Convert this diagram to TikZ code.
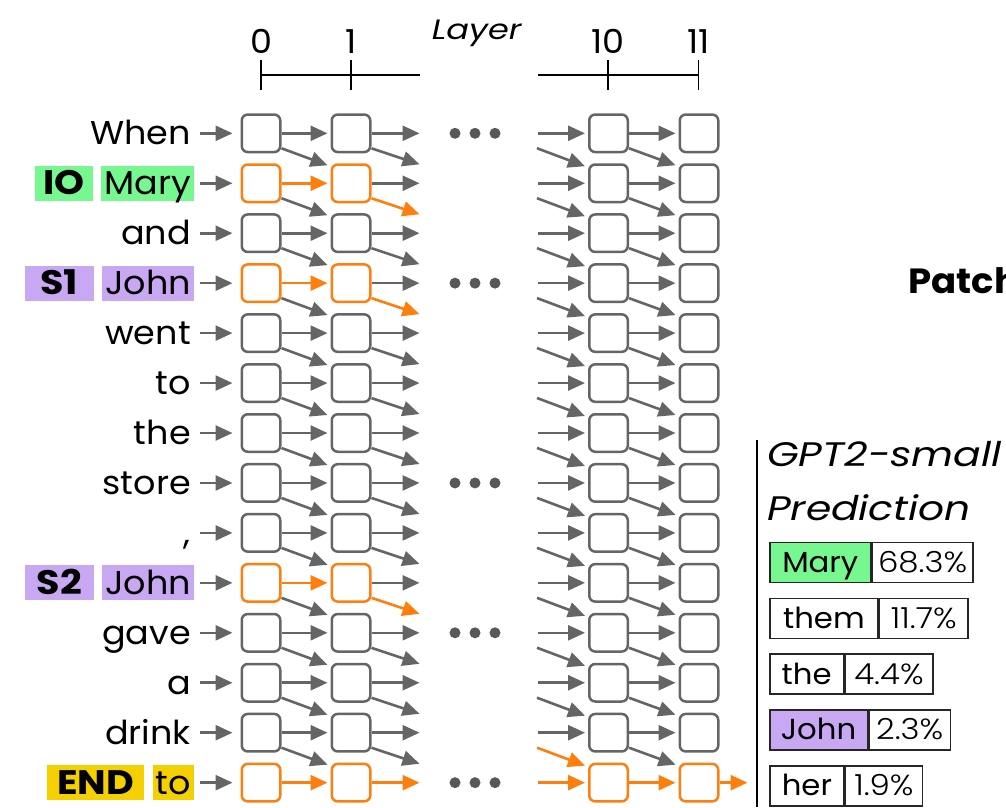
\documentclass[tikz,border=0pt]{standalone}
\usepackage{fontspec}
\setmainfont{Poppins}[FakeStretch=1.06]
\newfontfamily\plight{Poppins Light}[FakeStretch=1.12]
\newfontfamily\titfont{Poppins}[FakeStretch=1.2]
\newfontfamily\tagfont{Poppins}[FakeStretch=1.12]
\usetikzlibrary{arrows.meta,calc}
\definecolor{cgray}{HTML}{656565}
\definecolor{corange}{HTML}{FF7F0E}
\definecolor{cgreen}{HTML}{77F790}
\definecolor{cpurple}{HTML}{C8A7F3}
\definecolor{cyellow}{HTML}{F5D000}
\definecolor{cdot}{HTML}{585858}
\begin{document}
\begin{tikzpicture}[x=1pt,y=-1pt,
  cell/.style={draw=cgray, line width=2.5pt, rounded corners=6pt, minimum width=38.5pt, minimum height=37.5pt, inner sep=0pt, fill=white},
  ocell/.style={cell, draw=corange},
  arr/.style={draw=cgray, line width=2.6pt, -{Triangle[length=17pt,width=15pt]}},
  oarr/.style={arr, draw=corange},
  word/.style={font=\fontsize{33}{36}\selectfont, text height=23pt, text depth=0pt, inner ysep=6pt, inner xsep=3pt, anchor=east},
  tag/.style={font=\fontsize{34}{36}\selectfont\tagfont\bfseries, text height=23pt, text depth=0pt, inner ysep=6pt, inner xsep=2pt, anchor=east},
  axis/.style={line width=1.5pt, black},
  axlab/.style={font=\fontsize{33}{36}\selectfont, anchor=base, inner sep=0pt},
  pbox/.style={draw=black!85, line width=1.5pt, minimum height=40pt, inner sep=0pt, text height=20pt, text depth=0pt, font=\fontsize{29}{30}\selectfont, anchor=north west},
  pval/.style={pbox, font=\fontsize{29}{30}\selectfont\plight, anchor=west},
  titl/.style={font=\fontsize{34}{36}\selectfont\titfont\itshape, anchor=base west, inner sep=0pt},
  dots/.style={fill=cdot, draw=none}
]
\useasboundingbox (0,0) rectangle (1006,807);
\clip (0,0) rectangle (1006,807);

% axis
\draw[axis] (261,75) -- (420,75);
\draw[axis] (538,75) -- (698.3,75);
\draw[axis] (261,60) -- (261,90);
\draw[axis] (351,60) -- (351,90);
\draw[axis] (608,60) -- (608,90);
\draw[axis] (698.3,60) -- (698.3,90);
\node[axlab] (l0) at (261,53.3) {0};
\node[axlab] (l1) at (351,53.3) {1};
\node[axlab] (l10) at (608,53.3) {10};
\node[axlab] (l11) at (698.3,53.3) {11};
\node[titl, font=\fontsize{28}{30}\selectfont\titfont\itshape] (layer) at (431.7,39.3) {Layer};

% words
\foreach \i/\w/\f in {0/When/none,1/Mary/cgreen,2/and/none,3/John/cpurple,4/went/none,5/to/none,6/the/none,7/store/none,8/{,}/none,9/John/cpurple,10/gave/none,11/a/none,12/drink/none,13/to/cyellow}{
  \pgfmathsetmacro\yy{133.3+49.95*\i}
  \node[word, fill=\f] (w-\i) at (194,\yy) {\w};
}
\node[tag, fill=cgreen, minimum width=57.7pt] (t-1) at ($(w-1.west)+(-8,0)$) {IO};
\node[tag, fill=cpurple, minimum width=69pt] (t-3) at ($(w-3.west)+(-8,0)$) {S1};
\node[tag, fill=cpurple, minimum width=69pt] (t-9) at ($(w-9.west)+(-8,0)$) {S2};
\node[tag, fill=cyellow, minimum width=97.4pt] (t-13) at ($(w-13.west)+(-8,0)$) {END};

% cells
\foreach \i/\s/\t in {0/cell/cell,1/ocell/cell,2/cell/cell,3/ocell/cell,4/cell/cell,5/cell/cell,6/cell/cell,7/cell/cell,8/cell/cell,9/ocell/cell,10/cell/cell,11/cell/cell,12/cell/cell,13/ocell/ocell}{
  \pgfmathsetmacro\yy{133.3+49.95*\i}
  \node[\s] (a-\i) at (261,\yy) {};
  \node[\s] (b-\i) at (351,\yy) {};
  \node[\t] (c-\i) at (608.5,\yy) {};
  \node[\t] (d-\i) at (699,\yy) {};
}

% input arrows and horizontal arrows
\foreach \i/\h/\o/\g in {0/arr/arr/arr,1/oarr/arr/arr,2/arr/arr/arr,3/oarr/arr/arr,4/arr/arr/arr,5/arr/arr/arr,6/arr/arr/arr,7/arr/arr/arr,8/arr/arr/arr,9/oarr/arr/arr,10/arr/arr/arr,11/arr/arr/arr,12/arr/arr/arr,13/oarr/oarr/oarr}{
  \draw[arr, shorten <=6pt, shorten >=8pt] (a-\i.west -| w-\i.east) -- (a-\i.west);
  \draw[\h, shorten >=3pt] (a-\i.east) -- (b-\i.west);
  \draw[\o] (b-\i.east) -- ($(b-\i.east)+(48,0)$);
  \draw[\g, shorten >=3pt] ($(c-\i.west)+(-50,0)$) -- (c-\i.west);
  \draw[\g, shorten >=3pt] (c-\i.east) -- (d-\i.west);
}

% diagonal arrows
\foreach \i/\j/\o/\g in {0/1/arr/arr,1/2/oarr/arr,2/3/arr/arr,3/4/oarr/arr,4/5/arr/arr,5/6/arr/arr,6/7/arr/arr,7/8/arr/arr,8/9/arr/arr,9/10/oarr/arr,10/11/arr/arr,11/12/arr/arr,12/13/arr/oarr}{
  \draw[arr] ($(a-\i.east)+(0,15)$) -- ($(b-\j.north west)+(-3,2)$);
  \draw[\o] ($(b-\i.east)+(0,15)$) -- ($(b-\i.east)+(48,31)$);
  \draw[\g] ($(c-\j.west)+(-51,-35)$) -- ($(c-\j.north west)+(-3,3)$);
  \draw[arr] ($(c-\i.east)+(0,15)$) -- ($(d-\j.north west)+(-3,2)$);
}
\draw[oarr] (d-13.east) -- ($(d-13.east)+(28,0)$);

% ellipses
\foreach \i in {0,3,7,10,13}{
  \pgfmathsetmacro\yy{133.3+49.95*\i}
  \fill[dots] (455,\yy) circle (5.5);
  \fill[dots] (475,\yy) circle (5.5);
  \fill[dots] (495,\yy) circle (5.5);
}

% right panel
\node[font=\fontsize{35}{38}\selectfont\bfseries, anchor=base west, inner sep=0pt] (patch) at (908,293.3) {Patch};
\draw[line width=2pt, black] (756.7,440) -- (756.7,807);
\node[titl] (title1) at (767,466.7) {GPT2-small};
\node[titl] (title2) at (767,520) {Prediction};

\node[pbox, fill=cgreen, minimum width=101pt] (p1) at (769,541.7) {Mary};
\node[pval, minimum width=100.7pt] (v1) at (p1.east) {68.3\%};
\node[pbox, minimum width=108.3pt] (p2) at (769,597.5) {them};
\node[pval, minimum width=88.4pt] (v2) at (p2.east) {11.7\%};
\node[pbox, minimum width=73.7pt] (p3) at (769,653.3) {the};
\node[pval, minimum width=88pt] (v3) at (p3.east) {4.4\%};
\node[pbox, fill=cpurple, minimum width=97.7pt] (p4) at (769,709.1) {John};
\node[pval, minimum width=81.6pt] (v4) at (p4.east) {2.3\%};
\node[pbox, minimum width=74.3pt] (p5) at (769,765) {her};
\node[pval, minimum width=76.7pt] (v5) at (p5.east) {1.9\%};
\end{tikzpicture}
\end{document}
